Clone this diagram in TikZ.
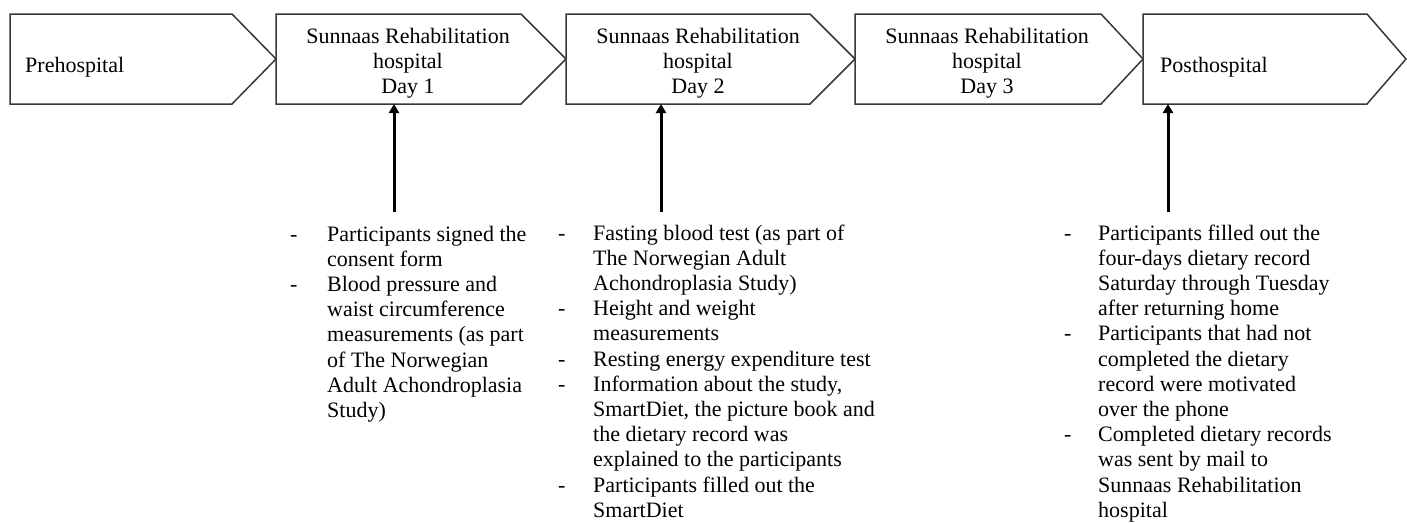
\documentclass[tikz,border=0pt]{standalone}
\usepackage{fontspec}
\setmainfont{Liberation Serif}
\newfontfamily\tmsfont{Liberation Serif}
\usetikzlibrary{arrows.meta,calc}
\tikzset{
  chev/.style={draw=black!78, line width=1.5pt, line join=miter},
  body/.style={inner sep=0pt, outer sep=0pt, minimum height=90pt, anchor=north west},
  hdr/.style={inner sep=0pt, anchor=base, font=\tmsfont\fontsize{22}{25}\selectfont},
  hdrl/.style={inner sep=0pt, anchor=base west, font=\tmsfont\fontsize{22}{25}\selectfont},
  lst/.style={inner sep=0pt, anchor=base west, font=\tmsfont\fontsize{22}{25.2}\selectfont},
  arr/.style={line width=3pt, -{Triangle[length=9pt,width=10pt]}},
}
\begin{document}
\begin{tikzpicture}[x=1pt,y=-1pt]
\useasboundingbox (0,0) rectangle (1407,522);

% chevron bodies
\node[body, minimum width=222pt] (c1) at (10,14) {};
\node[body, minimum width=245pt] (c2) at (276,14) {};
\node[body, minimum width=244pt] (c3) at (566,14) {};
\node[body, minimum width=246pt] (c4) at (855,14) {};
\node[body, minimum width=224pt] (c5) at (1143,14) {};

\draw[chev] (c1.north west) -- (c1.north east) -- ($(c1.east)+(44,0)$) -- (c1.south east) -- (c1.south west) -- cycle;
\draw[chev] (c2.north west) -- (c2.north east) -- ($(c2.east)+(45,0)$) -- (c2.south east) -- (c2.south west) -- cycle;
\draw[chev] (c3.north west) -- (c3.north east) -- ($(c3.east)+(45,0)$) -- (c3.south east) -- (c3.south west) -- cycle;
\draw[chev] (c4.north west) -- (c4.north east) -- ($(c4.east)+(42,0)$) -- (c4.south east) -- (c4.south west) -- cycle;
\draw[chev] (c5.north west) -- (c5.north east) -- ($(c5.east)+(39,0)$) -- (c5.south east) -- (c5.south west) -- cycle;

% chevron texts
\node[hdrl] (t1) at (25,72) {Prehospital};
\node[hdr] (t2) at (408,43) {\begin{tabular}[t]{@{}c@{}}Sunnaas Rehabilitation\\ hospital\\ Day 1\end{tabular}};
\node[hdr] (t3) at (698,43) {\begin{tabular}[t]{@{}c@{}}Sunnaas Rehabilitation\\ hospital\\ Day 2\end{tabular}};
\node[hdr] (t4) at (987,43) {\begin{tabular}[t]{@{}c@{}}Sunnaas Rehabilitation\\ hospital\\ Day 3\end{tabular}};
\node[hdrl] (t5) at (1160,72) {Posthospital};

% lists
\node[lst] (l1) at (290,241) {\begin{tabular}[t]{@{}p{37pt}@{}l@{}}
- & Participants signed the\\
  & consent form\\
- & Blood pressure and\\
  & waist circumference\\
  & measurements (as part\\
  & of The Norwegian\\
  & Adult Achondroplasia\\
  & Study)
\end{tabular}};

\node[lst] (l2) at (558,240) {\begin{tabular}[t]{@{}p{35pt}@{}l@{}}
- & Fasting blood test (as part of\\
  & The Norwegian Adult\\
  & Achondroplasia Study)\\
- & Height and weight\\
  & measurements\\
- & Resting energy expenditure test\\
- & Information about the study,\\
  & SmartDiet, the picture book and\\
  & the dietary record was\\
  & explained to the participants\\
- & Participants filled out the\\
  & SmartDiet
\end{tabular}};

\node[lst] (l3) at (1064,240) {\begin{tabular}[t]{@{}p{34pt}@{}l@{}}
- & Participants filled out the\\
  & four-days dietary record\\
  & Saturday through Tuesday\\
  & after returning home\\
- & Participants that had not\\
  & completed the dietary\\
  & record were motivated\\
  & over the phone\\
- & Completed dietary records\\
  & was sent by mail to\\
  & Sunnaas Rehabilitation\\
  & hospital
\end{tabular}};

% arrows
\coordinate (s1) at (394,212);
\coordinate (s2) at (661,212);
\coordinate (s3) at (1168,212);
\draw[arr] (s1) -- (s1 |- c2.south);
\draw[arr] (s2) -- (s2 |- c3.south);
\draw[arr] (s3) -- (s3 |- c5.south);
\end{tikzpicture}
\end{document}
